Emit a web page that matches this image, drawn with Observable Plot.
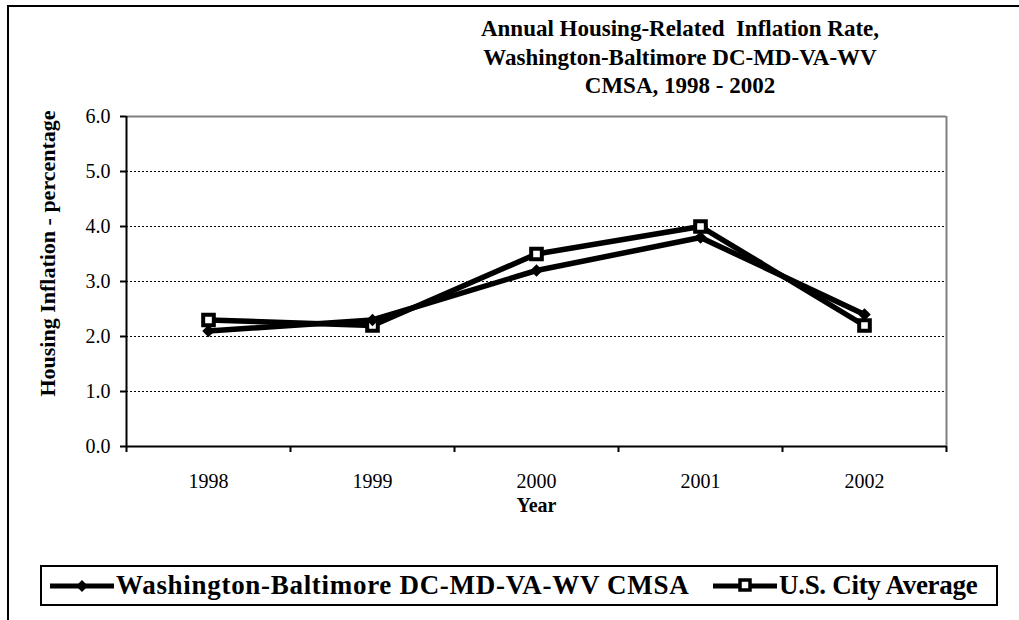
<!DOCTYPE html>
<html>
<head>
<meta charset="utf-8">
<script src="https://cdn.jsdelivr.net/npm/d3@7"></script>
<script src="https://cdn.jsdelivr.net/npm/@observablehq/plot@0.6"></script>
<style>
  body { margin: 0; background: #fff; }
  #wrap { position: relative; width: 1019px; height: 620px; overflow: hidden; background: #fff;
          font-family: "Liberation Serif", "Times New Roman", serif; color: #000; }
  #frame { position: absolute; left: 7px; top: 5px; width: 1100px; height: 700px;
           border-left: 2px solid #000; border-top: 2px solid #000; }
  #title { position: absolute; left: 430px; width: 500px; top: 15px; text-align: center;
           font-weight: bold; font-size: 23px; line-height: 28.5px; white-space: pre; }
  #chart { position: absolute; left: 0; top: 0; }
  #legend { position: absolute; left: 40px; top: 565px; width: 954px; height: 37px;
            border: 2px solid #000; background: #fff; }
  .item { position: absolute; top: 0; height: 37px; display: flex; align-items: center;
          font-weight: bold; font-size: 27px; white-space: nowrap; }
  .item svg { margin-right: 2px; }
</style>
</head>
<body>
<div id="wrap">
  <div id="frame"></div>
  <div id="chart"></div>
  <div id="title"></div>
  <div id="legend"></div>
</div>
<script>
const titleLines = ["Annual Housing-Related  Inflation Rate,", "Washington-Baltimore DC-MD-VA-WV", "CMSA, 1998 - 2002"];
const years = [1998, 1999, 2000, 2001, 2002];
const washington = [2.1, 2.3, 3.2, 3.8, 2.4];
const usCity = [2.3, 2.2, 3.5, 4.0, 2.2];
const yTicks = [0, 1, 2, 3, 4, 5, 6];
const seriesNames = ["Washington-Baltimore DC-MD-VA-WV CMSA", "U.S. City Average"];
const yLabel = "Housing Inflation - percentage";
const xLabel = "Year";

const data = years.flatMap((yr, i) => [
  {year: yr, value: washington[i], series: seriesNames[0]},
  {year: yr, value: usCity[i], series: seriesNames[1]}
]);
const bounds = years.map(y => y - 0.5).concat([years[years.length - 1] + 0.5]);
const xDomain = [bounds[0], bounds[bounds.length - 1]];

// Excel-like diamond: a square rotated 45 degrees
const excelDiamond = {
  draw(context, size) {
    const h = Math.sqrt(size / 2);
    context.moveTo(0, -h);
    context.lineTo(h, 0);
    context.lineTo(0, h);
    context.lineTo(-h, 0);
    context.closePath();
  }
};

document.getElementById("title").textContent = titleLines.join("\n");

const chart = Plot.plot({
  width: 1019,
  height: 530,
  marginLeft: 126,
  marginRight: 73,
  marginTop: 116,
  marginBottom: 84,
  x: {domain: xDomain},
  y: {domain: [yTicks[0], yTicks[yTicks.length - 1]]},
  style: {fontFamily: "Liberation Serif, Times New Roman, serif", fontSize: "20px", color: "#000", background: "transparent", overflow: "visible"},
  marks: [
    Plot.gridY(yTicks.slice(1, -1), {stroke: "#000", strokeOpacity: 1, strokeWidth: 1, strokeDasharray: "2,2"}),
    Plot.ruleY([yTicks[yTicks.length - 1]], {stroke: "#808080", strokeWidth: 2}),
    Plot.ruleX([xDomain[1]], {stroke: "#808080", strokeWidth: 2}),
    Plot.axisY({ticks: yTicks, tickFormat: d => d.toFixed(1), tickSize: 6, tickPadding: 10, label: null, strokeWidth: 2}),
    Plot.axisX({ticks: bounds, tickFormat: () => "", tickSize: 6, label: null, strokeWidth: 2}),
    Plot.axisX({ticks: years, tickFormat: d => String(d), tickSize: 0, tickPadding: 27, label: null}),
    Plot.ruleX([xDomain[0]], {stroke: "#000", strokeWidth: 2}),
    Plot.ruleY([0], {stroke: "#000", strokeWidth: 2}),
    Plot.line(data, {x: "year", y: "value", z: "series", stroke: "#000", strokeWidth: 5.5}),
    Plot.dot(data.filter(d => d.series === seriesNames[1]), {x: "year", y: "value", symbol: "square", fill: "#fff", stroke: "#000", strokeWidth: 4, r: 6}),
    Plot.dot(data.filter(d => d.series === seriesNames[0]), {x: "year", y: "value", symbol: excelDiamond, fill: "#000", r: 5}),
    Plot.text([xLabel], {frameAnchor: "bottom", lineAnchor: "middle", dy: 59, fontWeight: "bold", fontSize: 20}),
    Plot.text([yLabel], {frameAnchor: "left", textAnchor: "middle", lineAnchor: "middle", dx: -79, dy: -28, rotate: -90, fontWeight: "bold", fontSize: 22})
  ]
});
document.getElementById("chart").appendChild(chart);

// Legend (HTML)
const legend = document.getElementById("legend");
const legendLeft = [8, 671];
const legendSpacing = ["0.7px", "-0.3px"];
seriesNames.forEach((name, i) => {
  const item = document.createElement("div");
  item.className = "item";
  item.style.left = legendLeft[i] + "px";
  const marker = i === 0
    ? '<path d="M32,4 L38,10 L32,16 L26,10 Z" fill="#000"/>'
    : '<rect x="27" y="4" width="10" height="10" fill="#fff" stroke="#000" stroke-width="3.5"/>';
  item.innerHTML = '<svg width="64" height="20"><line x1="0" y1="10" x2="64" y2="10" stroke="#000" stroke-width="5"/>' + marker + '</svg>';
  const t = document.createElement("span");
  t.textContent = name;
  t.style.letterSpacing = legendSpacing[i];
  item.appendChild(t);
  legend.appendChild(item);
});
</script>
</body>
</html>
